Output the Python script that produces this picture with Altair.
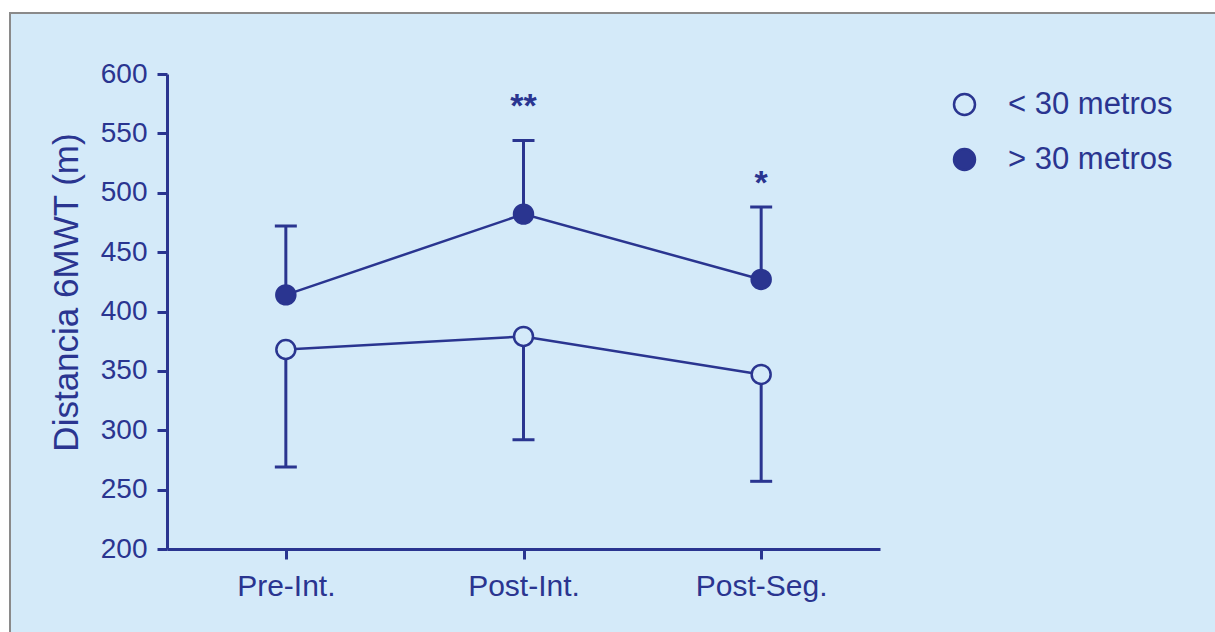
import altair as alt
import pandas as pd

NAVY = "#2a3590"
BG = "#d4eaf9"

cats = ["Pre-Int.", "Post-Int.", "Post-Seg."]
mean_hi = [414, 482, 427]
err_hi = [472, 544, 488]
mean_lo = [368, 379, 347]
err_lo = [269, 292, 257]
groups = ["< 30 metros", "> 30 metros"]
sig_cats = ["Post-Int.", "Post-Seg."]
sig_text = ["**", "*"]
sig_y = [572, 507]

rows = []
for c, m, e in zip(cats, mean_lo, err_lo):
    rows.append({"cat": c, "grupo": groups[0], "mean": m, "err": e})
for c, m, e in zip(cats, mean_hi, err_hi):
    rows.append({"cat": c, "grupo": groups[1], "mean": m, "err": e})
df = pd.DataFrame(rows)
sig = pd.DataFrame({"cat": sig_cats, "txt": sig_text, "y": sig_y})

FONT = "Liberation Sans"
xscale = alt.Scale(type="point", domain=cats, paddingOuter=0.5)
yscale = alt.Scale(domain=[200, 600], nice=False, zero=False)

x = alt.X("cat:N", scale=xscale, sort=cats, title=None,
          axis=alt.Axis(labelAngle=0, labelPadding=12, labelFontSize=30, zindex=1))
y = alt.Y("mean:Q", scale=yscale, title="Distancia 6MWT (m)",
          axis=alt.Axis(values=list(range(200, 601, 50)), labelPadding=10, titlePadding=16,
                        titleFontSize=35, titleY=218, zindex=1))

one = alt.Data(values=[{}])
strip_top = alt.Chart(one).mark_rect(fill="white").encode(
    x=alt.value(-170), x2=alt.value(1060), y=alt.value(-80), y2=alt.value(-62))
strip_left = alt.Chart(one).mark_rect(fill="white").encode(
    x=alt.value(-170), x2=alt.value(-158), y=alt.value(-80), y2=alt.value(570))
border_top = alt.Chart(one).mark_rule(color="#8a8a8a", strokeWidth=2).encode(
    x=alt.value(-158), x2=alt.value(1060), y=alt.value(-61))
border_left = alt.Chart(one).mark_rule(color="#8a8a8a", strokeWidth=2).encode(
    x=alt.value(-157), y=alt.value(-62), y2=alt.value(570))

base = alt.Chart(df)
lines = base.mark_line(color=NAVY, strokeWidth=2.5).encode(x=x, y=y, detail="grupo:N")
rules = base.mark_rule(color=NAVY, strokeWidth=3).encode(x=x, y=y, y2="err:Q")
caps = base.mark_tick(color=NAVY, size=22, thickness=3, opacity=1).encode(
    x=x, y=alt.Y("err:Q", scale=yscale))
pts = base.mark_point(shape="circle", size=360, strokeWidth=2.5, opacity=1, color=NAVY).encode(
    x=x, y=y,
    fill=alt.Fill("grupo:N", scale=alt.Scale(domain=groups, range=[BG, NAVY]),
                  legend=alt.Legend(title=None, orient="none", legendX=782, legendY=15,
                                    symbolSize=440, symbolStrokeColor=NAVY, symbolStrokeWidth=2.5,
                                    labelFontSize=31, labelColor=NAVY, labelFont=FONT, labelLimit=400,
                                    labelOffset=28, rowPadding=23, symbolType="circle")),
)
stars = alt.Chart(sig).mark_text(color=NAVY, fontSize=34, fontWeight="bold", font=FONT, baseline="middle").encode(
    x=alt.X("cat:N", scale=xscale, sort=cats), y=alt.Y("y:Q", scale=yscale), text="txt:N"
)

chart = alt.layer(strip_top, strip_left, border_top, border_left, lines, rules, caps, pts, stars).properties(
    width=713, height=475,
    autosize=alt.AutoSizeParams(type="none"),
    padding={"left": 167, "top": 74, "right": 335, "bottom": 83},
    background=BG,
).configure_view(stroke=None).configure_axis(
    domainColor=NAVY, domainWidth=3, tickColor=NAVY, tickWidth=3, tickSize=10,
    labelColor=NAVY, labelFontSize=28, labelFont=FONT, titleColor=NAVY,
    titleFontSize=30, titleFont=FONT, titleFontWeight="normal", grid=False,
)

chart.save("out.html", embed_options={"renderer": "svg", "actions": False})
